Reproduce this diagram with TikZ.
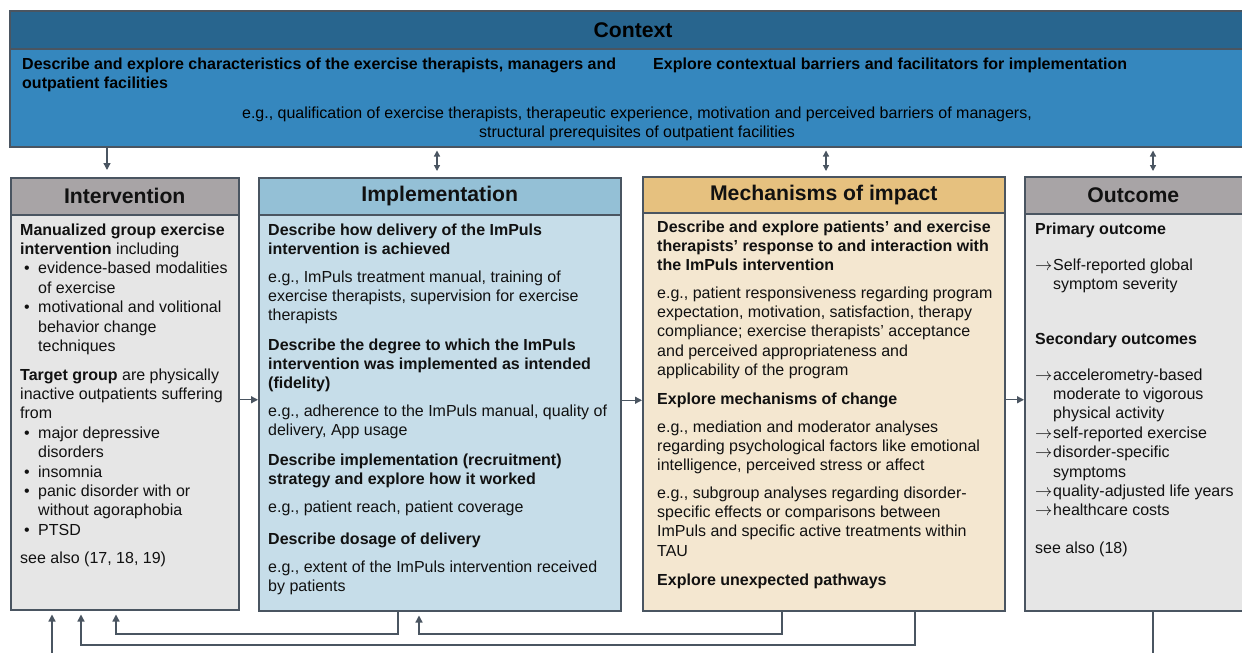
\documentclass[tikz,border=0pt]{standalone}
\usepackage{fontspec}
\setmainfont{Liberation Sans}
\usetikzlibrary{arrows.meta}

\definecolor{edgec}{HTML}{4A5561}
\definecolor{ctxhead}{HTML}{28658E}
\definecolor{ctxbody}{HTML}{3587BE}
\definecolor{greyhead}{HTML}{A8A4A6}
\definecolor{greybody}{HTML}{E6E6E6}
\definecolor{implhead}{HTML}{94C0D6}
\definecolor{implbody}{HTML}{C6DDE9}
\definecolor{mechhead}{HTML}{E6C17F}
\definecolor{mechbody}{HTML}{F4E7D0}
\definecolor{ink}{HTML}{111111}

\newcommand\bodyfont{\fontsize{16}{19.4}\selectfont}
\newcommand\titlefont{\fontsize{21.2}{25}\selectfont\bfseries}
\newcommand\bul{\makebox[18pt][l]{\hspace{4pt}•}}
\newcommand\ind{\hspace*{18pt}}
\newcommand\rarr{\makebox[18pt][l]{$\rightarrow$}}
% a text block whose baseline is that of its first line
\newcommand\blk[2]{\parbox[t]{#1}{\raggedright #2}}

\tikzset{
  panel/.style={draw=edgec, line width=1.5pt, anchor=north west, inner sep=0pt},
  headbar/.style={panel, font=\titlefont, text=ink},
  txt/.style={anchor=base west, inner sep=0pt, font=\bodyfont, text=ink},
  ctxtxt/.style={txt, text=black},
  arr/.style={draw=edgec, line width=1.3pt, -{Triangle[length=7pt,width=7pt]}},
  darr/.style={draw=edgec, line width=1.3pt, {Triangle[length=6pt,width=6pt]}-{Triangle[length=6pt,width=6pt]}},
}

\begin{document}
\begin{tikzpicture}[x=1pt,y=-1pt]
\useasboundingbox (0,0) rectangle (1242,653);
\fill[white] (0,0) rectangle (1242,653);

% Context panel
\node[panel, fill=ctxbody, minimum width=1240, minimum height=136] (ctx) at (9,10) {};
\node[headbar, fill=ctxhead, minimum width=1240, minimum height=38] (ctxhead) at (9,10) {};
\node[font=\titlefont, text=black] (ctxtitle) at (633,30) {Context};
\node[ctxtxt, font=\bodyfont\bfseries] (ctxA) at (22,69)
  {\blk{640pt}{Describe and explore characteristics of the exercise therapists, managers and\\outpatient facilities}};
\node[ctxtxt, font=\bodyfont\bfseries] (ctxB) at (653,69)
  {Explore contextual barriers and facilitators for implementation};
\node[ctxtxt, anchor=base] (ctxC) at (637,118)
  {\parbox[t]{1000pt}{\centering e.g., qualification of exercise therapists, therapeutic experience, motivation and perceived barriers of managers,\\structural prerequisites of outpatient facilities}};

% Intervention panel
\node[panel, fill=greybody, minimum width=228, minimum height=432] (int) at (10,177) {};
\node[headbar, fill=greyhead, minimum width=228, minimum height=37] (inthead) at (10,177) {Intervention};
\node[txt] (i1) at (20,235)
  {\blk{225pt}{\textbf{Manualized group exercise}\\\textbf{intervention} including\\\bul evidence-based modalities\\\ind of exercise\\\bul motivational and volitional\\\ind behavior change\\\ind techniques}};
\node[txt] (i2) at (20,380)
  {\blk{225pt}{\textbf{Target group} are physically\\inactive outpatients suffering\\from\\\bul major depressive\\\ind disorders\\\bul insomnia\\\bul panic disorder with or\\\ind without agoraphobia\\\bul PTSD}};
\node[txt] (i3) at (20,563) {see also (17, 18, 19)};

% Implementation panel
\node[panel, fill=implbody, minimum width=362, minimum height=433] (imp) at (258,177) {};
\node[headbar, fill=implhead, minimum width=362, minimum height=37] (imphead) at (258,177) {Implementation};
\node[txt, font=\bodyfont\bfseries] (m1) at (268,235)
  {\blk{360pt}{Describe how delivery of the ImPuls\\intervention is achieved}};
\node[txt] (m2) at (268,282)
  {\blk{360pt}{e.g., ImPuls treatment manual, training of\\exercise therapists, supervision for exercise\\therapists}};
\node[txt, font=\bodyfont\bfseries] (m3) at (268,350)
  {\blk{360pt}{Describe the degree to which the ImPuls\\intervention was implemented as intended\\(fidelity)}};
\node[txt] (m4) at (268,416)
  {\blk{360pt}{e.g., adherence to the ImPuls manual, quality of\\delivery, App usage}};
\node[txt, font=\bodyfont\bfseries] (m5) at (268,465)
  {\blk{360pt}{Describe implementation (recruitment)\\strategy and explore how it worked}};
\node[txt] (m6) at (268,512) {e.g., patient reach, patient coverage};
\node[txt, font=\bodyfont\bfseries] (m7) at (268,544) {Describe dosage of delivery};
\node[txt] (m8) at (268,572)
  {\blk{360pt}{e.g., extent of the ImPuls intervention received\\by patients}};

% Mechanisms of impact panel
\node[panel, fill=mechbody, minimum width=362, minimum height=434] (mec) at (642,176) {};
\node[headbar, fill=mechhead, minimum width=362, minimum height=36] (mechead) at (642,176) {Mechanisms of impact};
\node[txt, font=\bodyfont\bfseries] (k1) at (657,232)
  {\blk{360pt}{Describe and explore patients’ and exercise\\therapists’ response to and interaction with\\the ImPuls intervention}};
\node[txt] (k2) at (657,298)
  {\blk{360pt}{e.g., patient responsiveness regarding program\\expectation, motivation, satisfaction, therapy\\compliance; exercise therapists’ acceptance\\and perceived appropriateness and\\applicability of the program}};
\node[txt, font=\bodyfont\bfseries] (k3) at (657,404) {Explore mechanisms of change};
\node[txt] (k4) at (657,432)
  {\blk{360pt}{e.g., mediation and moderator analyses\\regarding psychological factors like emotional\\intelligence, perceived stress or affect}};
\node[txt] (k5) at (657,498)
  {\blk{360pt}{e.g., subgroup analyses regarding disorder-\\specific effects or comparisons between\\ImPuls and specific active treatments within\\TAU}};
\node[txt, font=\bodyfont\bfseries] (k6) at (657,585) {Explore unexpected pathways};

% Outcome panel
\node[panel, fill=greybody, minimum width=222, minimum height=434] (out) at (1024,176) {};
\node[headbar, fill=greyhead, minimum width=222, minimum height=37] (outhead) at (1024,176) {\hspace*{-5pt}Outcome};
\node[txt, font=\bodyfont\bfseries] (o1) at (1035,234) {Primary outcome};
\node[txt] (o2) at (1035,270) {\blk{220pt}{\rarr Self-reported global\\\ind symptom severity}};
\node[txt, font=\bodyfont\bfseries] (o3) at (1035,344) {Secondary outcomes};
\node[txt] (o4) at (1035,380)
  {\blk{220pt}{\rarr accelerometry-based\\\ind moderate to vigorous\\\ind physical activity\\\rarr self-reported exercise\\\rarr disorder-specific\\\ind symptoms\\\rarr quality-adjusted life years\\\rarr healthcare costs}};
\node[txt] (o5) at (1035,553) {see also (18)};

% Context links
\coordinate (cA) at (107,0);
\coordinate (cB) at (437,0);
\coordinate (cC) at (826,0);
\coordinate (cD) at (1153,0);
\draw[arr, shorten >=7pt] (ctx.south -| cA) -- (int.north -| cA);
\draw[darr, shorten <=3pt, shorten >=6pt] (ctx.south -| cB) -- (imp.north -| cB);
\draw[darr, shorten <=3pt, shorten >=5pt] (ctx.south -| cC) -- (mec.north -| cC);
\draw[darr, shorten <=3pt, shorten >=5pt] (ctx.south -| cD) -- (out.north -| cD);

% Forward links between panels
\draw[arr] ([yshift=-6pt]int.east) -- ([yshift=-6pt]int.east -| imp.west);
\draw[arr] ([yshift=-6pt]imp.east) -- ([yshift=-6pt]imp.east -| mec.west);
\draw[arr] ([yshift=-6pt]mec.east) -- ([yshift=-6pt]mec.east -| out.west);

% Feedback links
\coordinate (fa1) at (398,634); \coordinate (fa2) at (116,634);
\coordinate (fb1) at (782,634); \coordinate (fb2) at (419,634);
\coordinate (fc1) at (915,645); \coordinate (fc2) at (81,645);
\coordinate (fd1) at (1153,680); \coordinate (fd2) at (52,680);
\draw[arr, shorten >=4pt] (imp.south -| fa1) -- (fa1) -- (fa2) -- (int.south -| fa2);
\draw[arr, shorten >=4pt] (mec.south -| fb1) -- (fb1) -- (fb2) -- (imp.south -| fb2);
\draw[arr, shorten >=4pt] (mec.south -| fc1) -- (fc1) -- (fc2) -- (int.south -| fc2);
\draw[arr, shorten >=4pt] (out.south -| fd1) -- (fd1) -- (fd2) -- (int.south -| fd2);
\end{tikzpicture}
\end{document}
